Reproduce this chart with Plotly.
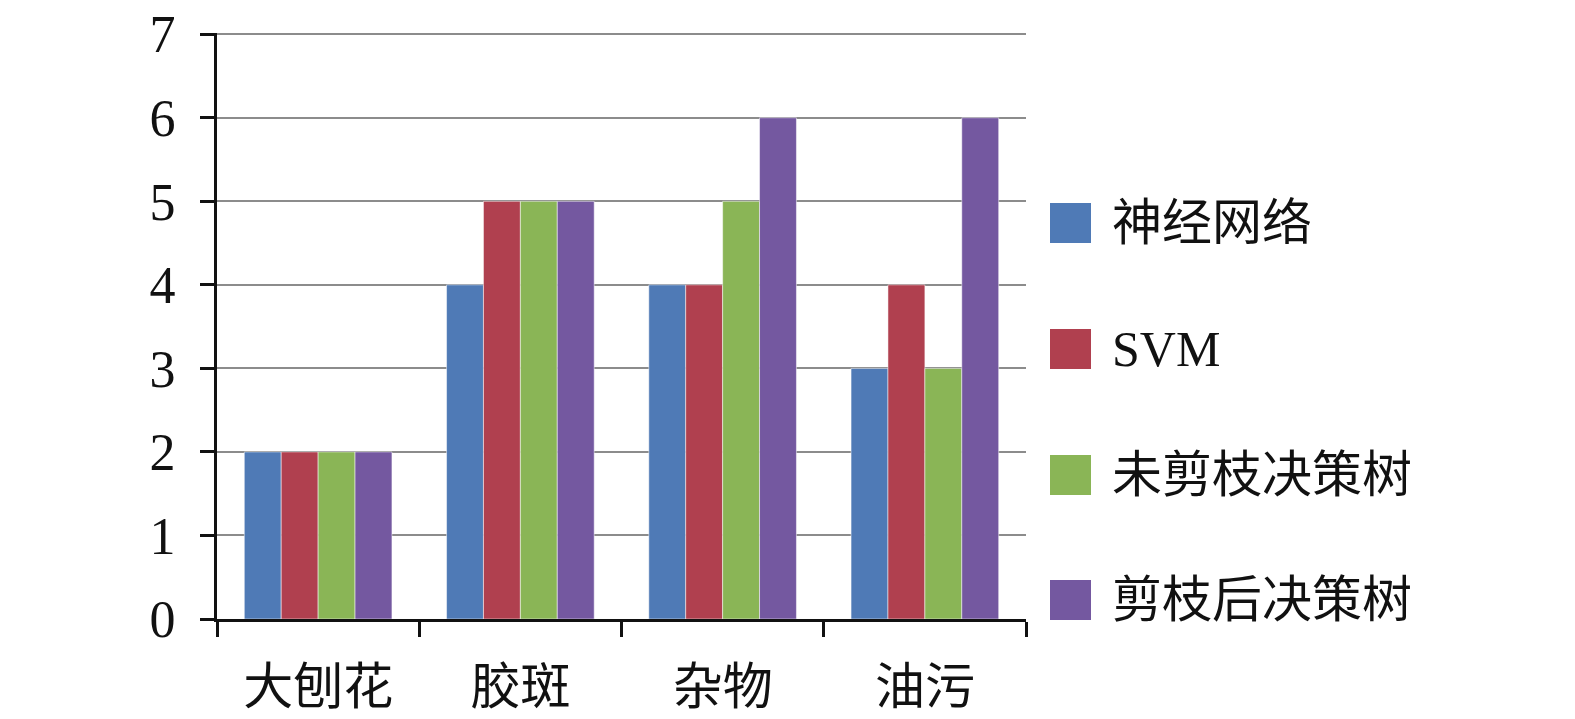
import plotly.graph_objects as go

categories = ["大刨花", "胶斑", "杂物", "油污"]
series_names = ["神经网络", "SVM", "未剪枝决策树", "剪枝后决策树"]
nn_vals = [2, 4, 4, 3]
svm_vals = [2, 5, 4, 4]
unpruned_vals = [2, 5, 5, 3]
pruned_vals = [2, 5, 6, 6]
y_ticks = [0, 1, 2, 3, 4, 5, 6, 7]

series_values = [nn_vals, svm_vals, unpruned_vals, pruned_vals]
colors = ["#4F7AB6", "#B0404F", "#8AB556", "#7458A0"]

W, H = 1575, 719
# plot area in screen pixels
X0, X1, Y0, Y1 = 217, 1026, 33, 619
L, T = X0, Y0
PW, PH = X1 - X0, Y1 - Y0
R, B = W - L - PW, H - T - PH

def px(xp):
    return (xp - X0) / PW

def py(yp):
    return (Y1 - yp) / PH

FONT = "Liberation Serif, 'Noto Sans CJK SC', serif"

fig = go.Figure()
for name, vals, c in zip(series_names, series_values, colors):
    fig.add_trace(go.Bar(
        x=categories, y=vals, name=name,
        marker=dict(color=c, line=dict(color="rgba(255,255,255,0.5)", width=1)),
        showlegend=False,
    ))

# manual legend
leg_y = [223, 349, 475, 600]
for name, c, yc in zip(series_names, colors, leg_y):
    fig.add_shape(type="rect", xref="paper", yref="paper",
                  x0=px(1050), x1=px(1091), y0=py(yc + 20), y1=py(yc - 20),
                  fillcolor=c, line=dict(width=0))
    fig.add_annotation(xref="paper", yref="paper", x=px(1110), y=py(yc),
                       text=name, showarrow=False, xanchor="left", yanchor="middle",
                       font=dict(family=FONT, size=50, color="#111"))

fig.update_layout(
    width=W, height=H,
    margin=dict(l=L, r=R, t=T, b=B, pad=0),
    paper_bgcolor="white", plot_bgcolor="white",
    barmode="group", bargap=0.27, bargroupgap=0,
    font=dict(family=FONT, size=50, color="#111"),
    xaxis=dict(
        automargin=False,
        showline=True, linecolor="#111", linewidth=3,
        ticks="outside", tickson="boundaries", ticklen=15, tickwidth=3, tickcolor="#111",
        showgrid=False, ticklabelstandoff=22, ticklabeloverflow="allow",
        tickfont=dict(family=FONT, size=50, color="#111"),
    ),
    yaxis=dict(
        automargin=False,
        range=[0, 7.015], tickvals=y_ticks,
        showline=True, linecolor="#111", linewidth=3,
        ticks="outside", ticklen=14, tickwidth=3, tickcolor="#111",
        showgrid=True, gridcolor="#8C8C8C", gridwidth=2,
        zeroline=False, ticklabelstandoff=14, ticklabeloverflow="allow",
        tickfont=dict(family=FONT, size=52, color="#111"),
    ),
)

fig.write_html("out.html",
               config={"displayModeBar": False},
               post_script="document.body.style.margin='0';document.body.style.overflow='hidden';")
